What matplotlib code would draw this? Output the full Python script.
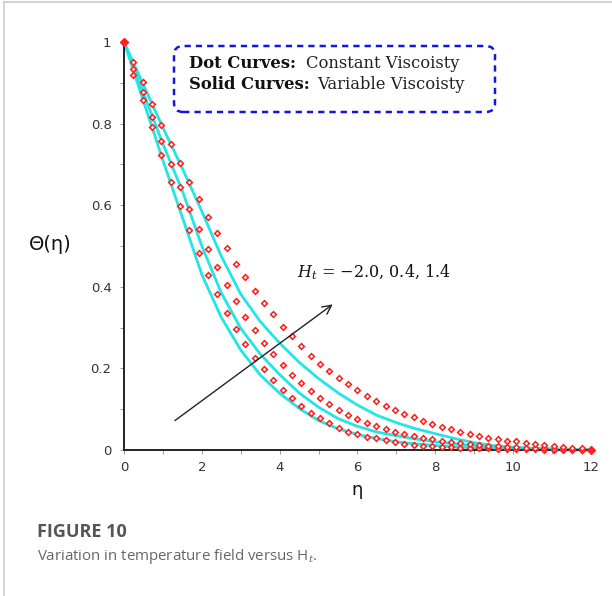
import matplotlib
matplotlib.use("Agg")
import matplotlib.pyplot as plt
from matplotlib.patches import FancyBboxPatch
from matplotlib.lines import Line2D
from matplotlib.ticker import MultipleLocator

# dot curves (constant viscosity)
eta_dots = [0.0, 0.24, 0.48, 0.72, 0.96, 1.2, 1.44, 1.68, 1.92, 2.16,
            2.4, 2.64, 2.88, 3.12, 3.36, 3.6, 3.84, 4.08, 4.32, 4.56,
            4.8, 5.04, 5.28, 5.52, 5.76, 6.0, 6.24, 6.48, 6.72, 6.96,
            7.2, 7.44, 7.68, 7.92, 8.16, 8.4, 8.64, 8.88, 9.12, 9.36,
            9.6, 9.84, 10.08, 10.32, 10.56, 10.8, 11.04, 11.28, 11.52, 11.76,
            12.0]
dots_low = [1.0, 0.92, 0.858, 0.791, 0.724, 0.658, 0.599, 0.539, 0.484, 0.430,
            0.382, 0.337, 0.297, 0.259, 0.226, 0.198, 0.172, 0.147, 0.127, 0.108,
            0.091, 0.078, 0.065, 0.055, 0.045, 0.038, 0.033, 0.029, 0.025, 0.019,
            0.015, 0.013, 0.011, 0.010, 0.008, 0.007, 0.006, 0.005, 0.004, 0.004,
            0.003, 0.003, 0.002, 0.002, 0.002, 0.001, 0.001, 0.001, 0.001, 0.0,
            0.0]
dots_mid = [1.0, 0.935, 0.878, 0.815, 0.757, 0.701, 0.645, 0.591, 0.541, 0.492,
            0.448, 0.404, 0.365, 0.327, 0.294, 0.262, 0.235, 0.208, 0.185, 0.165,
            0.145, 0.127, 0.112, 0.098, 0.085, 0.076, 0.067, 0.059, 0.052, 0.045,
            0.038, 0.034, 0.030, 0.026, 0.022, 0.019, 0.017, 0.014, 0.012, 0.011,
            0.009, 0.008, 0.007, 0.006, 0.005, 0.004, 0.003, 0.003, 0.002, 0.001,
            0.0]
dots_high = [1.0, 0.952, 0.901, 0.848, 0.797, 0.750, 0.703, 0.658, 0.614, 0.570,
             0.533, 0.494, 0.456, 0.423, 0.390, 0.360, 0.333, 0.302, 0.279, 0.255,
             0.231, 0.212, 0.194, 0.176, 0.161, 0.147, 0.133, 0.121, 0.109, 0.097,
             0.088, 0.080, 0.071, 0.063, 0.056, 0.051, 0.045, 0.039, 0.035, 0.030,
             0.026, 0.023, 0.021, 0.018, 0.0155, 0.012, 0.010, 0.0075, 0.006, 0.0045,
             0.0]

# solid curves (variable viscosity)
eta_solid = [0.0, 0.5, 1.0, 1.5, 2.0, 2.5, 3.0, 3.5, 4.0, 4.5, 5.0, 5.5, 6.0,
             6.5, 7.0, 7.5, 8.0, 8.5, 9.0, 9.5, 10.0, 10.5, 11.0, 11.5, 12.0]
solid_low = [1.0, 0.855, 0.71, 0.57, 0.43, 0.325, 0.245, 0.184, 0.139, 0.102, 0.072, 0.052, 0.038,
             0.028, 0.020, 0.015, 0.011, 0.008, 0.006, 0.004, 0.003, 0.002, 0.001, 0.0005, 0.0]
solid_mid = [1.0, 0.875, 0.75, 0.635, 0.50, 0.385, 0.298, 0.235, 0.185, 0.14, 0.105, 0.077, 0.058,
             0.044, 0.035, 0.027, 0.020, 0.015, 0.011, 0.008, 0.006, 0.004, 0.0025, 0.001, 0.0]
solid_high = [1.0, 0.895, 0.79, 0.69, 0.585, 0.475, 0.382, 0.315, 0.262, 0.215, 0.175, 0.14, 0.11,
              0.085, 0.067, 0.052, 0.040, 0.028, 0.018, 0.011, 0.007, 0.004, 0.002, 0.001, 0.0]

ht_label = r"$H_t$ = $-$2.0, 0.4, 1.4"

W, H = 612, 596
fig = plt.figure(figsize=(W / 100, H / 100), dpi=100)
plt.rcParams["mathtext.fontset"] = "dejavuserif"

ax = fig.add_axes([124 / W, 1 - 450 / H, 467 / W, 408 / H])

cyan = "#22E5E5"
for ys in (solid_low, solid_mid, solid_high):
    ax.plot(eta_solid, ys, color=cyan, lw=2.0, clip_on=False, zorder=2)
for ys in (dots_low, dots_mid, dots_high):
    ax.plot(eta_dots, ys, ls="none", marker="D", ms=2.9, mfc="white",
            mec="#FF2020", mew=1.15, clip_on=False, zorder=3)
# end points are drawn solid
ax.plot([0, 12], [1, 0], ls="none", marker="D", ms=4.2, color="#FF2020",
        clip_on=False, zorder=4)

ax.set_xlim(0, 12)
ax.set_ylim(0, 1)
ax.spines["top"].set_visible(False)
ax.spines["right"].set_visible(False)
for s in ("left", "bottom"):
    ax.spines[s].set_linewidth(1.4)
    ax.spines[s].set_color("#222222")
ax.set_xticks([0, 2, 4, 6, 8, 10, 12])
ax.set_yticks([0, 0.2, 0.4, 0.6, 0.8, 1])
ax.set_yticklabels(["0", "0.2", "0.4", "0.6", "0.8", "1"])
ax.xaxis.set_minor_locator(MultipleLocator(1))
ax.yaxis.set_minor_locator(MultipleLocator(0.1))
ax.tick_params(which="both", direction="out", length=3, width=0.7,
               color="#999999", labelsize=9.5, labelcolor="#333333")
ax.tick_params(axis="x", pad=5)
ax.tick_params(axis="y", pad=6)

fig.text(50 / W, 1 - 245 / H, "\u0398(\u03b7)", fontsize=14, ha="center",
         va="center", color="#111111")
fig.text(357 / W, 1 - 490 / H, "\u03b7", fontsize=13, ha="center",
         va="center", color="#111111")

# dashed legend box
box = FancyBboxPatch((174 / W, 1 - 112 / H), 321 / W, 66 / H,
                     boxstyle="round,pad=0,rounding_size=0.015",
                     transform=fig.transFigure, fill=False,
                     ec="#1515E0", lw=1.8, ls=(0, (2.5, 2)))
fig.patches.append(box)
serif = "DejaVu Serif"
fs_box = 11.8
fig.text(189 / W, 1 - 64 / H, "Dot Curves:", family=serif, weight="bold",
         fontsize=fs_box, va="center", color="#111111")
fig.text(306 / W, 1 - 64 / H, "Constant Viscoisty", family=serif,
         fontsize=fs_box, va="center", color="#222222")
fig.text(189 / W, 1 - 85 / H, "Solid Curves:", family=serif, weight="bold",
         fontsize=fs_box, va="center", color="#111111")
fig.text(317 / W, 1 - 85 / H, "Variable Viscoisty", family=serif,
         fontsize=fs_box, va="center", color="#222222")

ax.text(4.45, 0.435, ht_label, family=serif, fontsize=11.5, va="center",
        color="#111111")
ax.annotate("", xy=(5.42, 0.361), xytext=(1.25, 0.068),
            arrowprops=dict(arrowstyle="->", color="#222222", lw=1.0,
                            mutation_scale=16))

# caption
cap = "Open Sans"
fig.text(37 / W, 1 - 532 / H, "FIGURE 10", family=cap, weight="bold",
         fontsize=13, va="center", color="#555555")
fig.text(37 / W, 1 - 557 / H, "Variation in temperature field versus H$_t$.",
         family=cap, fontsize=10.8, va="center", color="#666666")

# page frame
fig.add_artist(Line2D([4 / W, 4 / W], [0, 1 - 2 / H], transform=fig.transFigure,
                      color="#cccccc", lw=1.2))
fig.add_artist(Line2D([4 / W, 1], [1 - 2 / H, 1 - 2 / H], transform=fig.transFigure,
                      color="#cccccc", lw=1.2))

fig.savefig("out.png", dpi=100)
